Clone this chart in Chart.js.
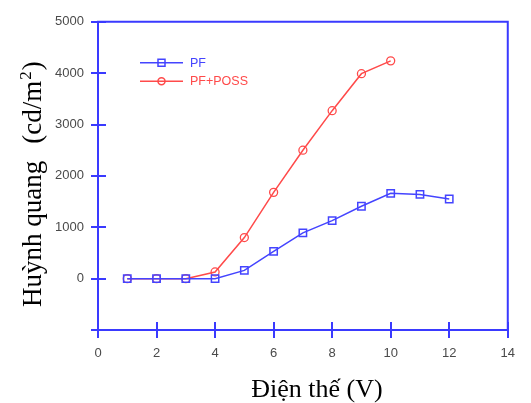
<!DOCTYPE html>
<html>
<head>
<meta charset="utf-8">
<script src="https://cdn.jsdelivr.net/npm/chart.js@4.4.0/dist/chart.umd.min.js"></script>
<style>
  html, body { margin: 0; padding: 0; background: #fff; }
  #wrap { width: 531px; height: 403px; }
</style>
</head>
<body>
<div id="wrap"><canvas id="cht" width="531" height="403"></canvas></div>
<script>
// values
const voltPF = [1, 2, 3, 4, 5, 6, 7, 8, 9, 10, 11, 12];
const lumPF = [0, 0, 0, 0, 160, 530, 890, 1130, 1410, 1660, 1640, 1550];
const voltPOSS = [1, 2, 3, 4, 5, 6, 7, 8, 9, 10];
const lumPOSS = [0, 0, 0, 130, 800, 1680, 2500, 3270, 3990, 4240];
const seriesNames = ["PF", "PF+POSS"];
const xTitle = "Điện thế (V)";
const yTitleParts = ["Huỳnh quang", "(cd/m", "2", ")"];

const axisBlue = "#3a3aff";
const lineBlue = "#4444ff";
const lineRed = "#ff4a4a";

function toPts(xs, ys) {
  return xs.map((x, i) => ({ x: x, y: ys[i] }));
}

const extras = {
  id: "extras",
  afterDraw(chart) {
    const ctx = chart.ctx;
    const a = chart.chartArea;
    const xs = chart.scales.x, ys = chart.scales.y;
    ctx.save();
    ctx.strokeStyle = axisBlue;
    ctx.lineWidth = 2;
    // box
    ctx.beginPath();
    ctx.moveTo(a.left, a.bottom);
    ctx.lineTo(a.left, a.top);
    ctx.lineTo(a.right, a.top);
    ctx.lineTo(a.right, a.bottom);
    ctx.lineTo(a.left, a.bottom);
    ctx.stroke();
    // tick marks crossing the axes
    ctx.beginPath();
    xs.ticks.forEach(t => {
      const px = Math.round(xs.getPixelForValue(t.value));
      ctx.moveTo(px, a.bottom - 8);
      ctx.lineTo(px, a.bottom + 8);
    });
    ys.ticks.forEach(t => {
      const py = Math.round(ys.getPixelForValue(t.value));
      ctx.moveTo(a.left - 7, py);
      ctx.lineTo(a.left + 8, py);
    });
    ctx.stroke();

    // legend
    const lx = a.left + 42, ly = a.top + 41;
    const items = [
      { name: seriesNames[0], color: lineBlue, style: "rect", dy: 0 },
      { name: seriesNames[1], color: lineRed, style: "circle", dy: 18.5 }
    ];
    ctx.font = "12.5px 'Liberation Sans', Arial, sans-serif";
    ctx.textBaseline = "middle";
    items.forEach(it => {
      const y = ly + it.dy;
      ctx.strokeStyle = it.color;
      ctx.lineWidth = 1.5;
      ctx.beginPath();
      ctx.moveTo(lx, y);
      ctx.lineTo(lx + 43, y);
      ctx.stroke();
      ctx.beginPath();
      if (it.style === "rect") ctx.rect(lx + 18, y - 3.5, 7, 7);
      else ctx.arc(lx + 21.5, y, 3.5, 0, Math.PI * 2);
      ctx.stroke();
      ctx.fillStyle = it.color;
      ctx.fillText(it.name, lx + 50, y + 0.5);
    });

    // axis titles
    const serif = "'Liberation Serif', 'Times New Roman', serif";
    ctx.fillStyle = "#000";
    ctx.font = "26px " + serif;
    ctx.textAlign = "center";
    ctx.textBaseline = "alphabetic";
    ctx.fillText(xTitle, 317, 397);

    ctx.save();
    ctx.translate(41, 307);
    ctx.rotate(-Math.PI / 2);
    ctx.textAlign = "left";
    let pos = 0;
    ctx.font = "27px " + serif;
    ctx.fillText(yTitleParts[0], pos, 0);
    pos += ctx.measureText(yTitleParts[0]).width + 17;
    ctx.fillText(yTitleParts[1], pos, 0);
    pos += ctx.measureText(yTitleParts[1]).width + 1;
    ctx.font = "17px " + serif;
    ctx.fillText(yTitleParts[2], pos, -10);
    pos += ctx.measureText(yTitleParts[2]).width + 1;
    ctx.font = "27px " + serif;
    ctx.fillText(yTitleParts[3], pos, 0);
    ctx.restore();
    ctx.restore();
  }
};

const chart = new Chart(document.getElementById("cht").getContext("2d"), {
  type: "line",
  data: {
    datasets: [
      {
        label: seriesNames[0],
        data: toPts(voltPF, lumPF),
        borderColor: lineBlue,
        backgroundColor: "transparent",
        borderWidth: 1.5,
        pointStyle: "rect",
        pointRadius: 5.2,
        pointBorderWidth: 1.5,
        pointBorderColor: lineBlue,
        pointBackgroundColor: "transparent",
        tension: 0
      },
      {
        label: seriesNames[1],
        data: toPts(voltPOSS, lumPOSS),
        borderColor: lineRed,
        backgroundColor: "transparent",
        borderWidth: 1.5,
        pointStyle: "circle",
        pointRadius: 4,
        pointBorderWidth: 1.3,
        pointBorderColor: lineRed,
        pointBackgroundColor: "transparent",
        tension: 0
      }
    ]
  },
  options: {
    responsive: false,
    animation: false,
    layout: { padding: { top: 20, right: 9, left: 0, bottom: 0 } },
    plugins: {
      legend: { display: false },
      tooltip: { enabled: false }
    },
    scales: {
      x: {
        type: "linear",
        min: 0,
        max: 14,
        grid: { display: false, drawTicks: false },
        border: { display: false },
        ticks: {
          stepSize: 2,
          padding: 16,
          color: "#4a4a4a",
          font: { family: "'Liberation Sans', Arial, sans-serif", size: 13 }
        },
        afterFit(s) { s.height = 73; }
      },
      y: {
        min: -1000,
        max: 5000,
        grid: { display: false, drawTicks: false },
        border: { display: false },
        ticks: {
          stepSize: 1000,
          padding: 14,
          color: "#4a4a4a",
          font: { family: "'Liberation Sans', Arial, sans-serif", size: 13 },
          callback: v => (v < 0 ? "" : v)
        },
        afterFit(s) { s.width = 98; }
      }
    }
  },
  plugins: [extras]
});
</script>
</body>
</html>
